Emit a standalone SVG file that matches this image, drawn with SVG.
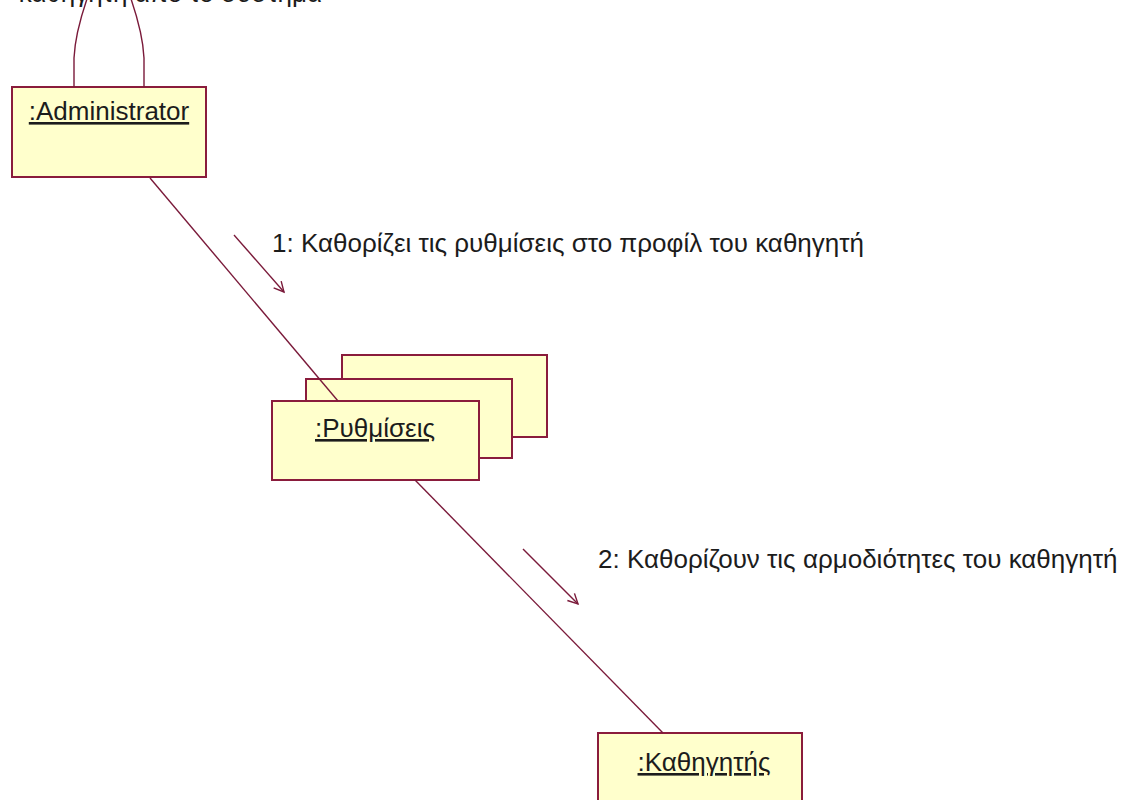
<svg xmlns="http://www.w3.org/2000/svg" width="1122" height="800" viewBox="0 0 1122 800">
  <defs>
    <style>
      .obj { fill: #ffffcc; stroke: #8a1c3c; stroke-width: 2; }
      .link { fill: none; stroke: #7a1a3a; stroke-width: 1.4; }
      .msg { fill: none; stroke: #7a1a3a; stroke-width: 1.4; }
      .lbl { font-family: "Liberation Sans", Arial, sans-serif; font-size: 26px; fill: #1c1c1c; }
      .name { font-family: "Liberation Sans", Arial, sans-serif; font-size: 26px; fill: #1c1c1c; text-decoration: underline; text-anchor: middle; }
    </style>
    <marker id="open" markerWidth="16" markerHeight="16" refX="13" refY="8" orient="auto" markerUnits="userSpaceOnUse">
      <path d="M3,3 L13,8 L3,13" fill="none" stroke="#7a1a3a" stroke-width="1.4"/>
    </marker>
  </defs>
  <rect width="1122" height="800" fill="#ffffff"/>

  <g id="administrator">
    <rect class="obj" x="12" y="87" width="194" height="90"/>
    <text class="name" x="109" y="120">:Administrator</text>
  </g>

  <g id="rythmiseis">
    <rect class="obj" x="342" y="355" width="205" height="82"/>
    <rect class="obj" x="306" y="379" width="206" height="79"/>
    <rect class="obj" x="272" y="401" width="207" height="79"/>
    <text class="name" x="375" y="437">:Ρυθμίσεις</text>
  </g>

  <g id="kathigitis">
    <rect class="obj" x="598" y="733" width="204" height="80"/>
    <text class="name" x="704" y="771">:Καθηγητής</text>
  </g>

  <!-- links between objects and message arrows, drawn over the stacked boxes -->
  <g id="connectors">
    <path class="link" d="M74,87 V58 C75,36 81,16 88,-4 Q109,-30 130,-4 C137,16 143,36 144,58 V87"/>
    <line class="link" x1="150" y1="178" x2="338" y2="401"/>
    <line class="msg" x1="234" y1="235" x2="284" y2="292" marker-end="url(#open)"/>
    <line class="link" x1="415" y1="480" x2="663" y2="733"/>
    <line class="msg" x1="523" y1="549" x2="578" y2="604" marker-end="url(#open)"/>
    <text class="lbl" x="322" y="2" text-anchor="end">καθηγητή από το σύστημα</text>
    <text class="lbl" x="272" y="252">1: Καθορίζει τις ρυθμίσεις στο προφίλ του καθηγητή</text>
    <text class="lbl" x="598" y="568">2: Καθορίζουν τις αρμοδιότητες του καθηγητή</text>
  </g>
</svg>
